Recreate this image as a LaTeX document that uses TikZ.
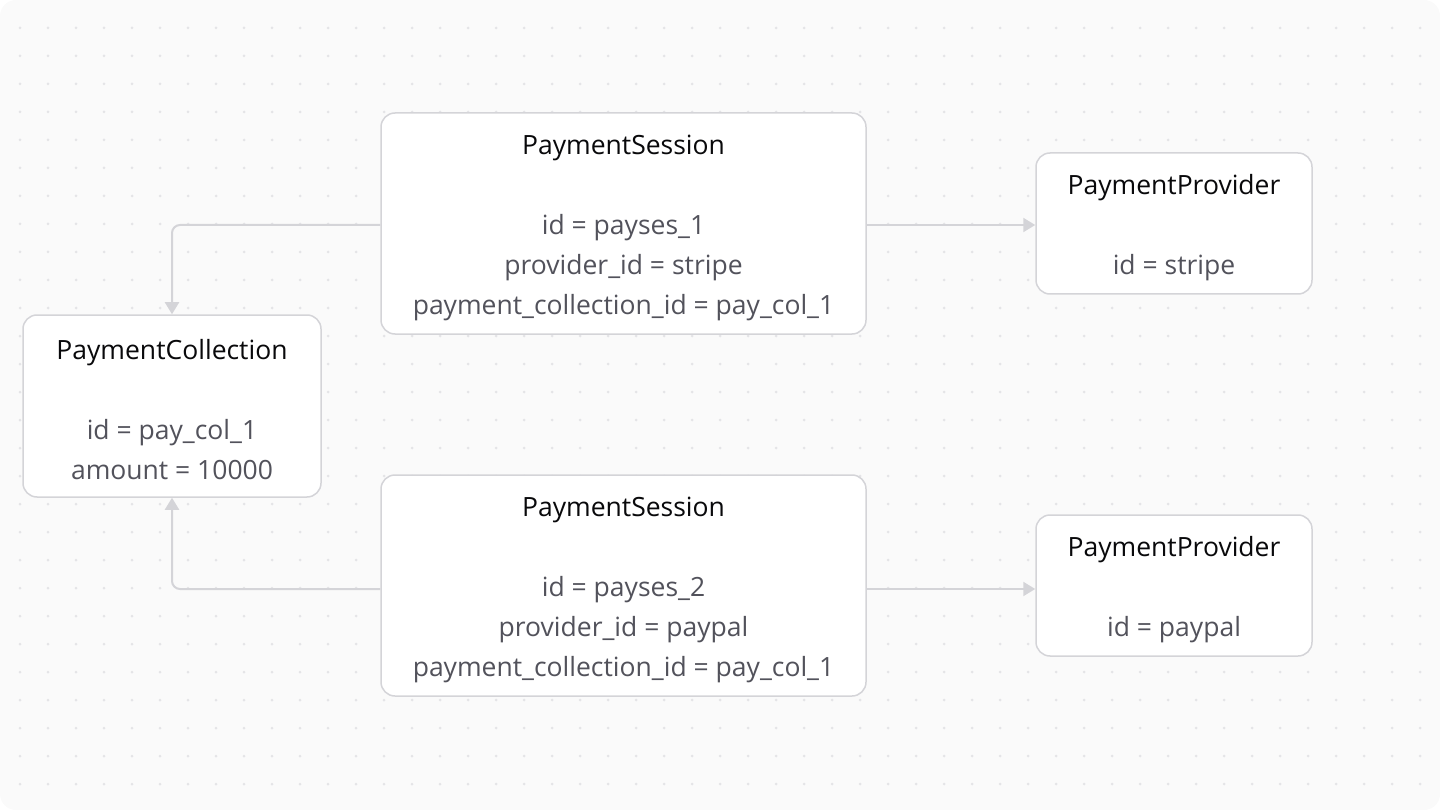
\documentclass[tikz,border=0pt]{standalone}
\usepackage{fontspec}
\setmainfont{Open Sans}
\usetikzlibrary{arrows.meta,positioning}
\definecolor{bgfill}{HTML}{FAFAFA}
\definecolor{dotgray}{HTML}{E4E4E7}
\definecolor{edgegray}{HTML}{D4D4D8}
\definecolor{bodygray}{HTML}{52525B}
\definecolor{titleblack}{HTML}{09090B}
\newcommand{\ttl}[1]{\rule{0pt}{28pt}{\color{titleblack}#1}}

\begin{document}
\begin{tikzpicture}[x=1pt,y=-1pt,>={Triangle[width=14pt,length=12pt]},
	every node/.style={font=\fontsize{26.5}{40}\selectfont},
	entity/.style={draw=edgegray,line width=1.5pt,fill=white,rounded corners=14pt,align=center,text=bodygray,inner sep=0pt},
	session/.style={entity,minimum width=485pt,minimum height=221pt},
	provider/.style={entity,minimum width=276pt,minimum height=141pt},
	link/.style={draw=edgegray,line width=2pt,rounded corners=8pt}]

	% canvas
	\fill [bgfill, rounded corners=16pt] (0,0) rectangle (1440,810);
	\foreach \i in {0,...,50}
		\foreach \j in {0,...,27}
			\fill [dotgray] (20+28*\i,28+28*\j) circle (1.5pt);

	\node [entity, minimum width=298pt, minimum height=182pt] at (172,406)	(col)	{\ttl{PaymentCollection}\\ \\ id = pay\_col\_1\\ amount = 10000};
	\node [session] at (623.5,223.5)	(ses_1)		{\ttl{PaymentSession}\\ \\ id = payses\_1\\ provider\_id = stripe\\ payment\_collection\_id = pay\_col\_1};
	\node [session] at (623.5,585.5)	(ses_2)		{\ttl{PaymentSession}\\ \\ id = payses\_2\\ provider\_id = paypal\\ payment\_collection\_id = pay\_col\_1};
	\node [provider] at (1174,223.5)	(prov_1)	{\ttl{PaymentProvider}\\ \\ id = stripe};
	\node [provider] at (1174,585.5)	(prov_2)	{\ttl{PaymentProvider}\\ \\ id = paypal};

	\draw [link,->] (ses_1.west |- 0,225) -| (col.north);
	\draw [link,->] (ses_2.west |- 0,589) -| (col.south);
	\draw [link,->] (ses_1.east |- 0,225) -- (prov_1.west |- 0,225);
	\draw [link,->] (ses_2.east |- 0,589) -- (prov_2.west |- 0,589);

\end{tikzpicture}
\end{document}
